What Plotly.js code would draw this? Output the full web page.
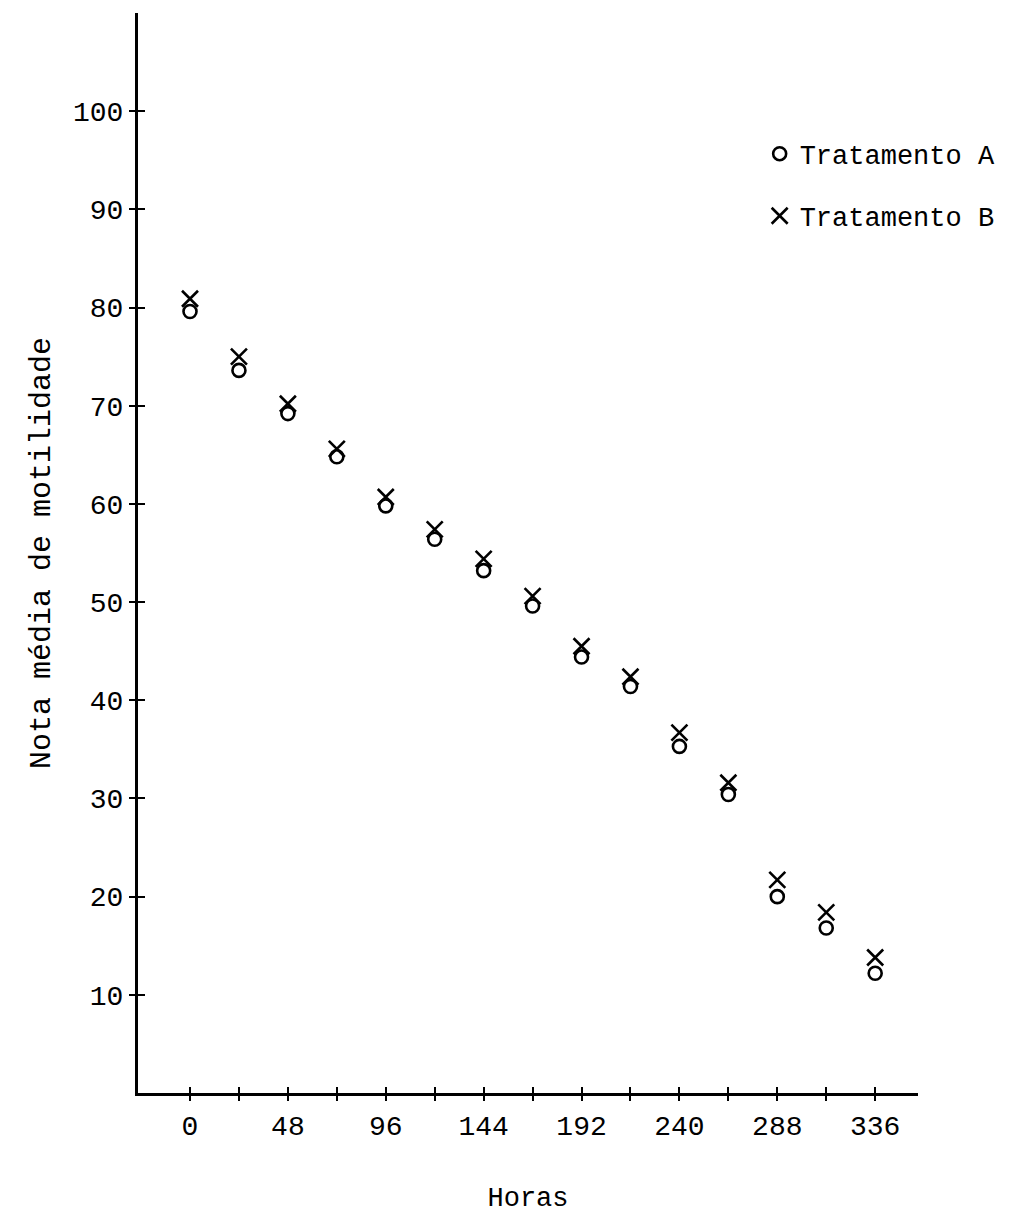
<!DOCTYPE html>
<html>
<head>
<meta charset="utf-8">
<script src="https://cdn.plot.ly/plotly-3.0.1.min.js"></script>
<style>html,body{margin:0;padding:0;background:#fff;}#chart{width:1020px;height:1214px;}</style>
</head>
<body>
<div id="chart"></div>
<script>
// Horas (x values)
const horas = [0, 24, 48, 72, 96, 120, 144, 168, 192, 216, 240, 264, 288, 312, 336];
// Nota média de motilidade
const tratamentoA = [79.6, 73.6, 69.2, 64.8, 59.8, 56.4, 53.2, 49.6, 44.4, 41.4, 35.3, 30.4, 20.0, 16.8, 12.2];
const tratamentoB = [80.9, 75.0, 70.2, 65.6, 60.7, 57.4, 54.4, 50.6, 45.5, 42.4, 36.7, 31.6, 21.7, 18.4, 13.8];
// tick labels
const xTickVals = [0, 24, 48, 72, 96, 120, 144, 168, 192, 216, 240, 264, 288, 312, 336];
const xTickText = ['0', '', '48', '', '96', '', '144', '', '192', '', '240', '', '288', '', '336'];
const yTickVals = [10, 20, 30, 40, 50, 60, 70, 80, 90, 100];
const yTickText = ['10', '20', '30', '40', '50', '60', '70', '80', '90', '100'];

const FONT = 'Liberation Mono, DejaVu Sans Mono, monospace';
const XR = [-25.5, 357];
const YR = [0, 110];

const traces = [
  {
    x: horas, y: tratamentoA, type: 'scatter', mode: 'markers',
    name: 'Tratamento A', legendgroup: 'a',
    marker: {symbol: 'circle-open', size: 13, color: '#000', line: {width: 2.6, color: '#000'}}
  },
  {
    x: horas, y: tratamentoB, type: 'scatter', mode: 'markers',
    name: 'Tratamento B', legendgroup: 'b',
    marker: {symbol: 'x-thin-open', size: 16, color: '#000', line: {width: 2.6, color: '#000'}}
  },
  {
    // carrier for the inner tick marks (no visible data)
    x: [null], y: [null], xaxis: 'x2', yaxis: 'y2', type: 'scatter', mode: 'markers',
    showlegend: false, hoverinfo: 'skip'
  }
];

const layout = {
  width: 1020, height: 1214,
  paper_bgcolor: '#fff', plot_bgcolor: '#fff',
  margin: {l: 138, r: 102, t: 13, b: 121},
  font: {family: FONT, color: '#000', size: 28},
  showlegend: true,
  legend: {
    x: 0.797, y: 0.892, xanchor: 'left', yanchor: 'top',
    bgcolor: 'rgba(0,0,0,0)', borderwidth: 0,
    font: {family: FONT, size: 27, color: '#000'},
    tracegroupgap: 24, traceorder: 'grouped', itemwidth: 30
  },
  xaxis: {
    range: XR, showgrid: false, zeroline: false,
    showline: true, linecolor: '#000', linewidth: 3,
    tickmode: 'array', tickvals: xTickVals, ticktext: xTickText,
    ticks: 'outside', ticklen: 5, tickwidth: 2, tickcolor: '#000',
    tickfont: {family: FONT, size: 28, color: '#000'},
    title: {text: 'Horas', font: {family: FONT, size: 27, color: '#000'}, standoff: 48}
  },
  yaxis: {
    range: YR, showgrid: false, zeroline: false,
    showline: true, linecolor: '#000', linewidth: 3,
    tickmode: 'array', tickvals: yTickVals, ticktext: yTickText,
    ticks: 'outside', ticklen: 6, tickwidth: 2, tickcolor: '#000',
    tickfont: {family: FONT, size: 28, color: '#000'},
    title: {text: 'Nota média de motilidade', font: {family: FONT, size: 30, color: '#000'}, standoff: 14}
  },
  xaxis2: {
    range: XR, overlaying: 'x', anchor: 'y', side: 'bottom',
    showgrid: false, zeroline: false, showline: false, showticklabels: false,
    tickmode: 'array', tickvals: xTickVals,
    ticks: 'inside', ticklen: 6, tickwidth: 2, tickcolor: '#000'
  },
  yaxis2: {
    range: YR, overlaying: 'y', anchor: 'x', side: 'left',
    showgrid: false, zeroline: false, showline: false, showticklabels: false,
    tickmode: 'array', tickvals: yTickVals,
    ticks: 'inside', ticklen: 7, tickwidth: 2, tickcolor: '#000'
  }
};

Plotly.newPlot('chart', traces, layout, {displayModeBar: false, staticPlot: true});
</script>
</body>
</html>
